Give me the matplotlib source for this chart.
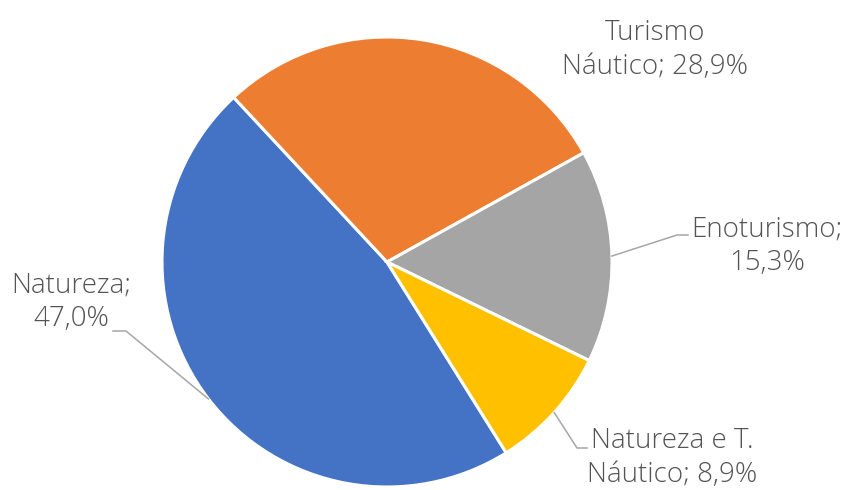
import numpy as np
import matplotlib.pyplot as plt

# shares (percent)
labels = ['Natureza', 'Turismo\nNáutico', 'Enoturismo', 'Natureza e T.\nNáutico']
values = [47.0, 28.9, 15.3, 8.9]
colors = ['#4472C4', '#ED7D31', '#A5A5A5', '#FFC000']

W, H = 847, 490
fig = plt.figure(figsize=(W / 100, H / 100), dpi=100)
ax = fig.add_axes([0, 0, 1, 1])

cx, cy, r = 387, H - 262, 225
wedges, _ = ax.pie(values, colors=colors, startangle=-58, counterclock=False,
                   center=(cx, cy), radius=r, frame=True,
                   wedgeprops=dict(edgecolor='white', linewidth=2.2))
ax.set_xlim(0, W)
ax.set_ylim(0, H)
ax.set_aspect('equal')
ax.axis('off')

# label centres (pixels from top-left) and leader line elbow points
label_pos = [(71, 302), (655, 50), (767, 246), (672, 458)]
elbows = [[(126, 331), (113, 331)], None,
          [(677, 235), (688, 235)], [(577, 448), (587, 448)]]

txt_color = '#545454'
for w, lab, v, (lx, ly), el in zip(wedges, labels, values, label_pos, elbows):
    pct = f'{v:.1f}'.replace('.', ',') + '%'
    if '\n' in lab:
        s = lab + '; ' + pct
    else:
        s = lab + ';\n' + pct
    ax.text(lx, H - ly, s, ha='center', va='center', fontsize=20,
            family='Open Sans', fontweight='light', color=txt_color,
            linespacing=1.27)
    if el is not None:
        mid = np.deg2rad((w.theta1 + w.theta2) / 2)
        x0 = cx + r * np.cos(mid)
        y0 = cy + r * np.sin(mid)
        xs = [x0] + [p[0] for p in el]
        ys = [y0] + [H - p[1] for p in el]
        ax.plot(xs, ys, color='#A6A6A6', lw=1.1)

fig.savefig('out.png', dpi=100)
